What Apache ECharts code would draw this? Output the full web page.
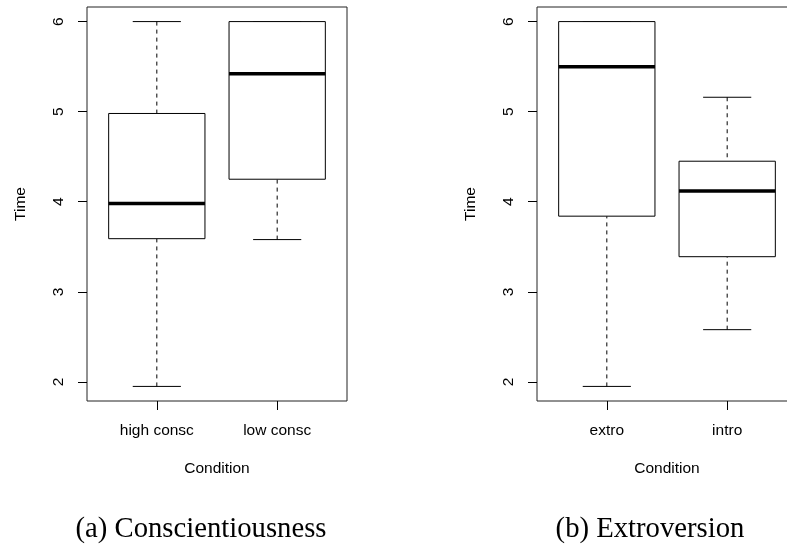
<!DOCTYPE html>
<html>
<head>
<meta charset="utf-8">
<script src="https://cdn.jsdelivr.net/npm/echarts@6/dist/echarts.min.js"></script>
<style>
  html, body { margin: 0; padding: 0; background: #fff; }
  #chart { width: 787px; height: 545px; }
</style>
</head>
<body>
<div id="chart"></div>
<script>
// ---- data ----
const consCategories = ['high consc', 'low consc'];
const consMin    = [1.95, 3.58];
const consQ1     = [3.59, 4.25];
const consMedian = [3.98, 5.42];
const consQ3     = [4.98, 6.00];
const consMax    = [6.00, 6.00];

const extroCategories = ['extro', 'intro'];
const extroMin    = [1.95, 2.58];
const extroQ1     = [3.84, 3.39];
const extroMedian = [5.50, 4.12];
const extroQ3     = [6.00, 4.45];
const extroMax    = [6.00, 5.16];

const yTicks = [2, 3, 4, 5, 6];
const xTicks = [1, 2];
const yAxisTitle = 'Time';
const xAxisTitle = 'Condition';
const captionA = '(a) Conscientiousness';
const captionB = '(b) Extroversion';

// ---- helpers ----
function buildRows(mins, q1s, meds, q3s, maxs) {
  return mins.map((v, i) => [i + 1, mins[i], q1s[i], meds[i], q3s[i], maxs[i]]);
}
function yRange(arrs) {
  const all = [].concat(...arrs);
  const lo = Math.min(...all), hi = Math.max(...all);
  const ext = (hi - lo) * 0.04;
  return [lo - ext, hi + ext];
}
const rangeA = yRange([consMin, consMax]);
const rangeB = yRange([extroMin, extroMax]);
const xMin = 0.5 - 0.04 * 2, xMax = 2.5 + 0.04 * 2;

function renderBox(params, api) {
  const x = api.value(0);
  const lo = api.value(1), q1 = api.value(2), med = api.value(3), q3 = api.value(4), hi = api.value(5);
  const pLo = api.coord([x, lo]);
  const pQ1 = api.coord([x, q1]);
  const pMed = api.coord([x, med]);
  const pQ3 = api.coord([x, q3]);
  const pHi = api.coord([x, hi]);
  const half = api.size([0.8, 0])[0] / 2;
  const sHalf = half / 2;
  const cx = pLo[0];
  const dash = { stroke: '#000', lineWidth: 1, lineDash: [4, 4] };
  const solid = { stroke: '#000', lineWidth: 1 };
  return {
    type: 'group',
    children: [
      { type: 'line', shape: { x1: cx, y1: pLo[1], x2: cx, y2: pQ1[1] }, style: dash },
      { type: 'line', shape: { x1: cx, y1: pHi[1], x2: cx, y2: pQ3[1] }, style: dash },
      { type: 'line', shape: { x1: cx - sHalf, y1: pLo[1], x2: cx + sHalf, y2: pLo[1] }, style: solid },
      { type: 'line', shape: { x1: cx - sHalf, y1: pHi[1], x2: cx + sHalf, y2: pHi[1] }, style: solid },
      { type: 'rect', shape: { x: cx - half, y: pQ3[1], width: 2 * half, height: pQ1[1] - pQ3[1] },
        style: { fill: '#fff', stroke: '#000', lineWidth: 1 } },
      { type: 'line', shape: { x1: cx - half, y1: pMed[1], x2: cx + half, y2: pMed[1] },
        style: { stroke: '#000', lineWidth: 3.5 } }
    ]
  };
}

const sans = 'Liberation Sans, Arial, sans-serif';
const serif = 'Liberation Serif, Times New Roman, serif';

function xAxisFor(gridIndex, cats) {
  return {
    type: 'value', gridIndex: gridIndex, min: xMin, max: xMax,
    name: xAxisTitle, nameLocation: 'middle', nameGap: 60,
    nameTextStyle: { color: '#000', fontSize: 15.5, fontFamily: sans },
    axisLine: { show: false },
    splitLine: { show: false },
    axisTick: { show: true, customValues: xTicks, length: 9, lineStyle: { color: '#000' } },
    axisLabel: { show: true, customValues: xTicks, margin: 22, color: '#000', fontSize: 15.5, fontFamily: sans,
      formatter: v => cats[Math.round(v) - 1] || '' }
  };
}
function yAxisFor(gridIndex, range) {
  return {
    type: 'value', gridIndex: gridIndex, min: range[0], max: range[1],
    name: yAxisTitle, nameLocation: 'middle', nameGap: 58, nameRotate: 90,
    nameTextStyle: { color: '#000', fontSize: 15.5, fontFamily: sans },
    axisLine: { show: false },
    splitLine: { show: false },
    axisTick: { show: true, customValues: yTicks, length: 9, lineStyle: { color: '#000' } },
    axisLabel: { show: true, customValues: yTicks, rotate: 90, margin: 20, color: '#000', fontSize: 15.5, fontFamily: sans }
  };
}

const chart = echarts.init(document.getElementById('chart'), null, { renderer: 'canvas' });
chart.setOption({
  animation: false,
  backgroundColor: '#fff',
  grid: [
    { left: 87, top: 7, width: 260, height: 394, outerBoundsMode: 'none', containLabel: false,
      show: true, borderColor: '#222', borderWidth: 1, backgroundColor: 'transparent' },
    { left: 537, top: 7, width: 260, height: 394, outerBoundsMode: 'none', containLabel: false,
      show: true, borderColor: '#222', borderWidth: 1, backgroundColor: 'transparent' }
  ],
  xAxis: [xAxisFor(0, consCategories), xAxisFor(1, extroCategories)],
  yAxis: [yAxisFor(0, rangeA), yAxisFor(1, rangeB)],
  series: [
    { type: 'custom', xAxisIndex: 0, yAxisIndex: 0, renderItem: renderBox,
      encode: { x: 0, y: [1, 2, 3, 4, 5] },
      data: buildRows(consMin, consQ1, consMedian, consQ3, consMax) },
    { type: 'custom', xAxisIndex: 1, yAxisIndex: 1, renderItem: renderBox,
      encode: { x: 0, y: [1, 2, 3, 4, 5] },
      data: buildRows(extroMin, extroQ1, extroMedian, extroQ3, extroMax) }
  ],
  graphic: [
    { type: 'text', x: 201, y: 529, style: { text: captionA, fill: '#000', font: '28.7px ' + serif, textAlign: 'center', textVerticalAlign: 'middle' } },
    { type: 'text', x: 650, y: 529, style: { text: captionB, fill: '#000', font: '28.7px ' + serif, textAlign: 'center', textVerticalAlign: 'middle' } }
  ]
});
</script>
</body>
</html>
